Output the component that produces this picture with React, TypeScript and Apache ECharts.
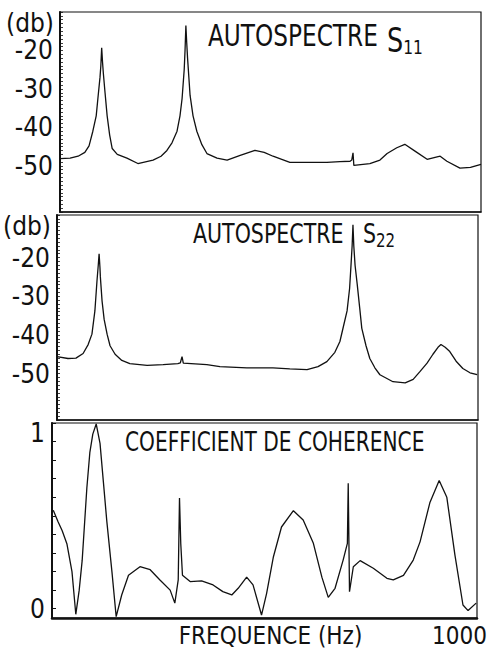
import React, { useEffect, useRef } from 'react';
import * as echarts from 'echarts';

// ---- data ----
const S11_FREQ = [0, 24, 43, 59, 69, 78, 86, 90, 95, 97, 99, 101, 103, 107, 112, 118, 124, 136, 159, 185, 221, 240, 254, 266, 278, 285, 290, 295, 297, 299, 301, 303, 309, 316, 325, 337, 349, 373, 397, 428, 463, 485, 506, 546, 634, 665, 689, 693, 696, 698, 736, 760, 777, 800, 819, 845, 872, 903, 919, 950, 975, 1000];
const S11_DB = [-48.1, -48.0, -47.5, -46.5, -44.8, -41, -37, -32.5, -27, -24, -19.3, -23, -26, -31, -37, -42, -45.5, -47, -48, -49.4, -48.5, -47.5, -46, -44, -41, -37, -32.5, -25, -20, -13.5, -18, -22, -31.7, -37, -41, -44.5, -46.8, -48, -48.5, -47.3, -46, -46.5, -47.5, -49.1, -49.1, -48.9, -48.8, -48.5, -46.6, -49.9, -49.4, -48.5, -46.8, -45.3, -44.4, -46.3, -48.3, -47.5, -48.8, -50.6, -50.4, -49.6];

const S22_FREQ = [0, 26, 45, 62, 74, 83, 90, 95, 98, 100, 102, 103, 107, 112, 119, 126, 138, 154, 173, 214, 252, 287, 293, 297, 300, 328, 356, 387, 451, 513, 553, 594, 620, 641, 660, 672, 681, 689, 695, 698, 701, 703, 705, 708, 713, 719, 724, 734, 743, 755, 767, 798, 827, 846, 862, 879, 893, 905, 912, 922, 933, 948, 964, 981, 998];
const S22_DB = [-45.6, -46.1, -46.0, -44.8, -42.5, -39.8, -33.8, -26, -22, -19, -22.5, -25, -31.2, -36, -39.8, -42.8, -45, -46.6, -47.4, -47.9, -47.7, -47.4, -47.2, -45.6, -47.3, -47.5, -47.7, -48.2, -48.5, -48.5, -48.8, -49, -48.2, -46.9, -44.5, -41.7, -37.5, -33.8, -28, -22.6, -17, -11.5, -17, -22, -26.8, -33, -38.3, -42.8, -46.1, -48.5, -50.3, -52.1, -52.4, -51.5, -49.5, -47.3, -45, -43.2, -42.5, -43.2, -44.3, -46.8, -48.7, -49.8, -50.3];

const COH_FREQ = [3, 14, 24, 35, 47, 56, 64, 71, 82, 89, 96, 104, 113, 121, 129, 141, 151, 164, 180, 207, 231, 254, 278, 289, 297, 300, 303, 307, 325, 352, 379, 402, 423, 438, 458, 473, 493, 505, 521, 540, 568, 591, 615, 635, 650, 666, 685, 695, 697, 700, 709, 725, 756, 788, 803, 827, 850, 866, 889, 911, 929, 948, 967, 979, 998];
const COH_VAL = [0.53, 0.47, 0.42, 0.35, 0.2, -0.03, 0.1, 0.26, 0.65, 0.84, 0.94, 0.995, 0.89, 0.68, 0.47, 0.2, -0.043, 0.074, 0.18, 0.226, 0.21, 0.155, 0.1, 0.03, 0.155, 0.596, 0.35, 0.18, 0.146, 0.15, 0.128, 0.092, 0.074, 0.11, 0.17, 0.128, -0.034, 0.083, 0.28, 0.44, 0.528, 0.478, 0.352, 0.17, 0.061, 0.11, 0.262, 0.352, 0.675, 0.092, 0.226, 0.259, 0.218, 0.164, 0.155, 0.18, 0.262, 0.36, 0.57, 0.69, 0.6, 0.29, 0.02, -0.01, 0.03];

const DB_TICK_LABELS = [-20, -30, -40, -50];
const COH_TICK_LABELS = [0, 1];
const FREQ_TICK_LABELS = [1000];
const TITLES = ['AUTOSPECTRE', 'AUTOSPECTRE', 'COEFFICIENT DE COHERENCE'];
const SUBS = ['11', '22'];
const X_NAME = 'FREQUENCE (Hz)';
const DB_UNIT = '(db)';

const FONT = "'Liberation Sans Narrow', 'DejaVu Sans Condensed', 'Liberation Sans', sans-serif";
const INK = '#111';

const pairs = (xs: number[], ys: number[]) => xs.map((x, i) => [x, ys[i]]);

export default function App() {
  const ref = useRef<HTMLDivElement>(null);
  useEffect(() => {
    if (!ref.current) return;
    const chart = echarts.init(ref.current, undefined, { renderer: 'svg' });

    const gridBase = { show: true, borderColor: INK, borderWidth: 1.2, containLabel: false, outerBoundsMode: 'none' };
    const grids = [
      { ...gridBase, left: 60, top: 12, width: 421, height: 200 },
      { ...gridBase, left: 57, top: 215, width: 421, height: 205 },
      { ...gridBase, left: 52, top: 423, width: 425, height: 195 },
    ];

    const xBase = (i: number) => ({
      type: 'value', gridIndex: i, min: 0, max: 1000,
      axisLine: { show: true, onZero: false, lineStyle: { color: INK, width: i === 2 ? 2.5 : 1.5 } },
      axisTick: { show: false }, splitLine: { show: false }, axisLabel: { show: false },
    });
    const xAxes: any[] = [xBase(0), xBase(1), {
      ...xBase(2), interval: 1000,
      axisLabel: {
        show: true, margin: 6, fontSize: 24, lineHeight: 24, fontFamily: FONT, color: INK,
        align: 'right', padding: [0, -10, 0, 0],
        formatter: (v: number) => (FREQ_TICK_LABELS.includes(v) ? String(v) : ''),
      },
      name: X_NAME, nameLocation: 'middle', nameGap: 6, nameMoveOverlap: false,
      nameTextStyle: { fontSize: 24, lineHeight: 24, fontFamily: FONT, color: INK, verticalAlign: 'top', padding: [0, 0, 0, 12] },
    }];

    const dbAxis = (i: number, max: number) => ({
      type: 'value', gridIndex: i, min: -62, max, interval: 1,
      axisLine: { show: true, lineStyle: { color: INK, width: 2 } },
      axisTick: { show: true, inside: true, length: 3, lineStyle: { color: INK, width: 0.8 } },
      splitLine: { show: false },
      axisLabel: {
        margin: 7, fontSize: 26, fontFamily: FONT, color: INK,
        formatter: (v: number) => (DB_TICK_LABELS.includes(v) ? String(v) : ''),
      },
      name: DB_UNIT, nameLocation: 'end', nameGap: -11, nameMoveOverlap: false,
      nameTextStyle: { fontSize: 26, fontFamily: FONT, color: INK, align: 'right', verticalAlign: 'middle', padding: [0, 6, 0, 0] },
    });
    const yAxes: any[] = [dbAxis(0, -10), dbAxis(1, -9), {
      type: 'value', gridIndex: 2, min: -0.05, max: 1, splitNumber: 10, minInterval: 0.1, maxInterval: 0.1,
      axisLine: { show: true, lineStyle: { color: INK, width: 2 } },
      axisTick: { show: true, inside: true, length: 4, lineStyle: { color: INK, width: 1 } },
      splitLine: { show: false },
      axisLabel: {
        margin: 7, fontSize: 26, fontFamily: FONT, color: INK,
        formatter: (v: number) => {
          const hit = COH_TICK_LABELS.find((t) => Math.abs(t - v) < 1e-6);
          if (hit === undefined) return '';
          return hit === 1 ? `{t|${hit}}` : `{b|${hit}}`;
        },
        rich: {
          t: { fontSize: 26, fontFamily: FONT, color: INK, padding: [20, 0, 0, 0] },
          b: { fontSize: 26, fontFamily: FONT, color: INK },
        },
      },
    }];

    const lineSeries = (i: number, data: number[][]) => ({
      type: 'line', xAxisIndex: i, yAxisIndex: i, data, showSymbol: false, symbol: 'none',
      lineStyle: { color: INK, width: 1.3 }, clip: false,
    });

    const txt = (x: number, y: number, scaleX: number, text: string, rich: any) => ({
      type: 'text', x, y, scaleX, silent: true,
      style: { text, rich, fill: INK, align: 'left', verticalAlign: 'middle' },
    });

    chart.setOption({
      animation: false,
      backgroundColor: '#fff',
      grid: grids,
      xAxis: xAxes,
      yAxis: yAxes,
      series: [
        lineSeries(0, pairs(S11_FREQ, S11_DB)),
        lineSeries(1, pairs(S22_FREQ, S22_DB)),
        lineSeries(2, pairs(COH_FREQ, COH_VAL)),
      ],
      graphic: [
        txt(208, 36, 0.86, `{m|${TITLES[0]}}`, { m: { fontSize: 30, fontFamily: FONT } }),
        txt(387, 40, 0.86, `{S|S}{s|${SUBS[0]}}`, {
          S: { fontSize: 33, fontFamily: FONT, verticalAlign: 'middle' },
          s: { fontSize: 20, fontFamily: FONT, verticalAlign: 'middle', padding: [14, 0, 0, 0] },
        }),
        txt(193, 234, 0.88, `{m|${TITLES[1]}}`, { m: { fontSize: 26, fontFamily: FONT } }),
        txt(363, 234, 0.88, `{S|S}{s|${SUBS[1]}}`, {
          S: { fontSize: 26, fontFamily: FONT, verticalAlign: 'middle' },
          s: { fontSize: 19, fontFamily: FONT, verticalAlign: 'middle', padding: [12, 0, 0, 0] },
        }),
        txt(125, 442, 0.83, `{m|${TITLES[2]}}`, { m: { fontSize: 27, fontFamily: FONT } }),
      ],
    });
    return () => chart.dispose();
  }, []);
  return <div ref={ref} style={{ position: 'absolute', left: 0, top: 0, width: 489, height: 650 }} />;
}
